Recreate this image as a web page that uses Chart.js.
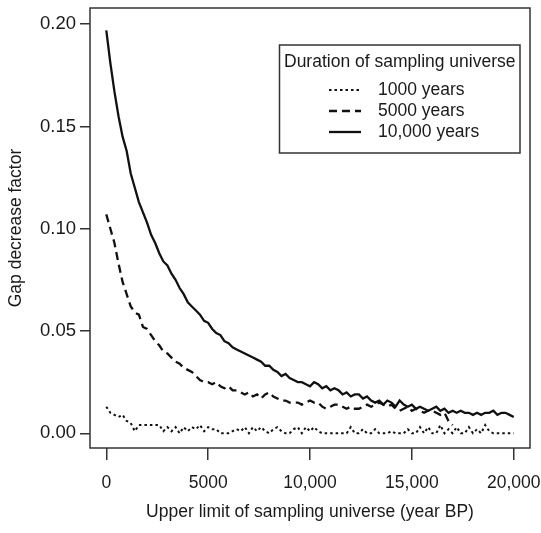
<!DOCTYPE html>
<html>
<head>
<meta charset="utf-8">
<script src="https://cdn.jsdelivr.net/npm/chart.js@4/dist/chart.umd.min.js"></script>
<style>
  html, body { margin: 0; padding: 0; background: #fff; }
  #wrap { width: 541px; height: 533px; }
</style>
</head>
<body>
<div id="wrap"><canvas id="c" width="541" height="533"></canvas></div>
<script>
// ---- data ----
const xYears1 = [0,200,400,600,800,1000,1200,1400,1600,1800,2000,2200,2400,2600,2800,3000,3200,3400,3600,3800,4000,4200,4400,4600,4800,5000,5200,5400,5600,5800,6000,6200,6400,6600,6800,7000,7200,7400,7600,7800,8000,8200,8400,8600,8800,9000,9200,9400,9600,9800,10000,10200,10400,10600,10800,11000,11200,11400,11600,11800,12000,12200,12400,12600,12800,13000,13200,13400,13600,13800,14000,14200,14400,14600,14800,15000,15200,15400,15600,15800,16000,16200,16400,16600,16800,17000,17200,17400,17600,17800,18000,18200,18400,18600,18800,19000,19200,19400,19600,19800,20000];

const dur10000 = [0.197,0.181,0.167,0.155,0.145,0.138,0.127,0.120,0.113,0.108,0.103,0.097,0.093,0.088,0.084,0.082,0.078,0.075,0.071,0.068,0.064,0.062,0.060,0.058,0.055,0.054,0.051,0.049,0.048,0.045,0.044,0.042,0.041,0.040,0.039,0.038,0.037,0.036,0.035,0.033,0.033,0.031,0.030,0.028,0.029,0.027,0.026,0.025,0.025,0.024,0.023,0.025,0.024,0.022,0.023,0.021,0.022,0.021,0.019,0.020,0.018,0.019,0.019,0.017,0.018,0.016,0.015,0.016,0.014,0.016,0.015,0.013,0.016,0.014,0.013,0.014,0.012,0.013,0.012,0.011,0.012,0.013,0.011,0.012,0.010,0.011,0.010,0.011,0.010,0.010,0.009,0.010,0.009,0.010,0.010,0.011,0.009,0.010,0.010,0.009,0.008];

const dur5000 = [0.107,0.100,0.093,0.083,0.074,0.068,0.062,0.059,0.058,0.052,0.051,0.048,0.045,0.043,0.040,0.039,0.037,0.035,0.034,0.032,0.031,0.030,0.028,0.026,0.025,0.025,0.024,0.025,0.023,0.022,0.023,0.021,0.021,0.020,0.019,0.020,0.018,0.019,0.017,0.019,0.020,0.018,0.017,0.016,0.016,0.015,0.015,0.015,0.014,0.015,0.016,0.015,0.015,0.013,0.012,0.013,0.014,0.014,0.013,0.012,0.013,0.012,0.012,0.013,0.014,0.013,0.014,0.015,0.014,0.013,0.014,0.012,0.011,0.012,0.013,0.011,0.012,0.011,0.010,0.011,0.011,0.010,0.009,0.010,0.006,0.004];

const dur1000 = [0.013,0.010,0.009,0.008,0.009,0.006,0.005,0.001,0.004,0.004,0.004,0.004,0.004,0.004,0.001,0.003,0.001,0.003,0.000,0.003,0.001,0.003,0.002,0.004,0.001,0.003,0.002,0.002,0.000,0.000,0.000,0.001,0.002,0.001,0.003,0.000,0.003,0.001,0.003,0.001,0.000,0.002,0.003,0.001,0.000,0.000,0.002,0.003,0.000,0.003,0.001,0.003,0.001,0.000,0.000,0.000,0.000,0.000,0.000,0.000,0.003,0.000,0.000,0.002,0.000,0.000,0.002,0.000,0.000,0.000,0.001,0.000,0.000,0.000,0.002,0.000,0.000,0.003,0.000,0.003,0.000,0.000,0.004,0.000,0.002,0.000,0.003,0.000,0.000,0.003,0.000,0.002,0.000,0.004,0.001,0.000,0.000,0.000,0.000,0.000,0.000];

const seriesNames = ['1000 years', '5000 years', '10,000 years'];
const legendTitle = 'Duration of sampling universe';
const xTickValues = [0, 5000, 10000, 15000, 20000];
const xTickLabels = ['0', '5000', '10,000', '15,000', '20,000'];
const yTickValues = [0, 0.05, 0.10, 0.15, 0.20];
const yTickLabels = ['0.00', '0.05', '0.10', '0.15', '0.20'];
const xTitle = 'Upper limit of sampling universe (year BP)';
const yTitle = 'Gap decrease factor';

// ---- build ----
function pts(vals) { return vals.map((v, i) => ({ x: xYears1[i], y: v })); }

const FONT = "'Liberation Sans', Arial, Helvetica, sans-serif";
const INK = '#1a1a1a';
const FS = 17.5;

const boxPlugin = {
  id: 'box',
  afterDraw(chart) {
    const { ctx, chartArea: a } = chart;
    ctx.save();
    ctx.strokeStyle = '#333';
    ctx.lineWidth = 1.5;
    ctx.strokeRect(a.left, a.top, a.right - a.left, a.bottom - a.top);
    ctx.restore();
  }
};

const legendPlugin = {
  id: 'rlegend',
  afterDraw(chart) {
    const { ctx } = chart;
    const L = 279.5, T = 45, R = 520, B = 153;
    ctx.save();
    ctx.fillStyle = '#fff';
    ctx.fillRect(L, T, R - L, B - T);
    ctx.strokeStyle = '#333';
    ctx.lineWidth = 1.5;
    ctx.strokeRect(L, T, R - L, B - T);
    ctx.fillStyle = INK;
    ctx.font = FS + "px " + FONT;
    ctx.textBaseline = 'middle';
    ctx.textAlign = 'left';
    ctx.fillText(legendTitle, L + 4.5, 62);
    const ys = [90, 111, 132];
    [0, 1, 2].forEach((di, k) => {
      const ds = chart.data.datasets[di];
      ctx.strokeStyle = ds.borderColor;
      ctx.lineWidth = ds.borderWidth;
      ctx.setLineDash(ds.borderDash || []);
      ctx.beginPath();
      ctx.moveTo(329, ys[k]);
      ctx.lineTo(361, ys[k]);
      ctx.stroke();
      ctx.setLineDash([]);
      ctx.fillText(ds.label, 378, ys[k]);
    });
    ctx.restore();
  }
};

new Chart(document.getElementById('c'), {
  type: 'line',
  data: {
    datasets: [
      { label: seriesNames[0], data: pts(dur1000), borderColor: '#111', borderWidth: 2, borderDash: [2.5, 3], pointRadius: 0, tension: 0, fill: false },
      { label: seriesNames[1], data: pts(dur5000), borderColor: '#111', borderWidth: 2.3, borderDash: [8, 5], pointRadius: 0, tension: 0, fill: false },
      { label: seriesNames[2], data: pts(dur10000), borderColor: '#111', borderWidth: 2.3, pointRadius: 0, tension: 0, fill: false }
    ]
  },
  options: {
    responsive: false,
    animation: false,
    layout: { padding: { top: 8, right: 11, left: 0, bottom: 0 } },
    plugins: { legend: { display: false }, tooltip: { enabled: false } },
    scales: {
      x: {
        type: 'linear',
        min: -800, max: 20800,
        afterBuildTicks: (ax) => { ax.ticks = xTickValues.map(v => ({ value: v })); },
        afterFit: (ax) => { ax.height = 85; ax.paddingLeft = 0; ax.paddingRight = 0; },
        ticks: {
          autoSkip: false, maxRotation: 0, padding: 13,
          color: INK, font: { family: FONT, size: FS },
          callback: (v) => { const i = xTickValues.indexOf(v); return i >= 0 ? xTickLabels[i] : ''; }
        },
        grid: { display: true, drawOnChartArea: false, drawTicks: true, tickLength: 12, color: '#333', lineWidth: 1.5 },
        border: { display: false },
        title: { display: true, text: xTitle, color: INK, font: { family: FONT, size: FS }, padding: { top: 0, bottom: 10 } }
      },
      y: {
        type: 'linear',
        min: -0.0072, max: 0.2079,
        afterBuildTicks: (ax) => { ax.ticks = yTickValues.map(v => ({ value: v })); },
        afterFit: (ax) => { ax.width = 90; ax.paddingTop = 0; ax.paddingBottom = 0; },
        ticks: {
          autoSkip: false, padding: 4,
          color: INK, font: { family: FONT, size: 18.5 },
          callback: (v) => { const i = yTickValues.findIndex(t => Math.abs(t - v) < 1e-9); return i >= 0 ? yTickLabels[i] : ''; }
        },
        grid: { display: true, drawOnChartArea: false, drawTicks: true, tickLength: 10, color: '#333', lineWidth: 1.5 },
        border: { display: false },
        title: { display: true, text: yTitle, color: INK, font: { family: FONT, size: FS }, padding: { top: 6, bottom: 0 } }
      }
    }
  },
  plugins: [boxPlugin, legendPlugin]
});
</script>
</body>
</html>
